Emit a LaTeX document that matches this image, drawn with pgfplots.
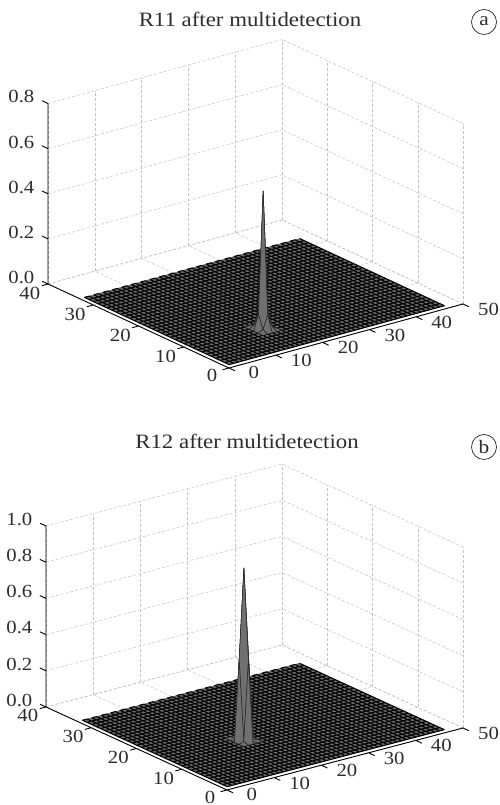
\documentclass[border=0pt]{standalone}
\usepackage{pgfplots}
\usepackage{pgfplotstable}
\usepackage{fontspec}
\setmainfont[FakeStretch=1.12]{Liberation Serif}
\pgfplotsset{compat=1.18}
\definecolor{floorg}{RGB}{105,105,105}
\definecolor{spikeg}{RGB}{112,112,112}
\definecolor{txt}{RGB}{45,45,45}
\pgfplotstableread{
x y z
1 1 0
1 33 0
2 33 0
2 1 0
3 1 0
3 33 0
4 33 0
4 1 0
5 1 0
5 33 0
6 33 0
6 1 0
7 1 0
7 33 0
8 33 0
8 1 0
9 1 0
9 33 0
10 33 0
10 1 0
11 1 0
11 33 0
12 33 0
12 1 0
13 1 0
13 33 0
14 33 0
14 1 0
15 1 0
15 33 0
16 33 0
16 1 0
17 1 0
17 33 0
18 33 0
18 1 0
19 1 0
19 33 0
20 33 0
20 1 0
21 1 0
21 33 0
22 33 0
22 1 0
23 1 0
23 33 0
24 33 0
24 1 0
25 1 0
25 33 0
26 33 0
26 1 0
27 1 0
27 33 0
28 33 0
28 1 0
29 1 0
29 33 0
30 33 0
30 1 0
31 1 0
31 33 0
32 33 0
32 1 0
33 1 0
33 33 0
34 33 0
34 1 0
35 1 0
35 33 0
36 33 0
36 1 0
37 1 0
37 33 0
38 33 0
38 1 0
39 1 0
39 33 0
40 33 0
40 1 0
41 1 0
41 33 0
42 33 0
42 1 0
43 1 0
43 33 0
44 33 0
44 1 0
45 1 0
45 33 0
46 33 0
46 1 0
47 1 0
47 33 0
47 32 0
1 32 0
1 31 0
47 31 0
47 30 0
1 30 0
1 29 0
47 29 0
47 28 0
1 28 0
1 27 0
47 27 0
47 26 0
1 26 0
1 25 0
47 25 0
47 24 0
1 24 0
1 23 0
47 23 0
47 22 0
1 22 0
1 21 0
47 21 0
47 20 0
1 20 0
1 19 0
47 19 0
47 18 0
1 18 0
1 17 0
47 17 0
47 16 0
1 16 0
1 15 0
47 15 0
47 14 0
1 14 0
1 13 0
47 13 0
47 12 0
1 12 0
1 11 0
47 11 0
47 10 0
1 10 0
1 9 0
47 9 0
47 8 0
1 8 0
1 7 0
47 7 0
47 6 0
1 6 0
1 5 0
47 5 0
47 4 0
1 4 0
1 3 0
47 3 0
47 2 0
1 2 0
1 1 0
47 1 0
}\floormesh
\pgfplotstableread{
x y z
14 7 0
15 7 0
16 7 0
17 7 0
18 7 0
14 8 0
15 8 0.012
16 8 0.07
17 8 0.012
18 8 0
14 9 0
15 9 0.07
16 9 0.61
17 9 0.07
18 9 0
14 10 0
15 10 0.012
16 10 0.07
17 10 0.012
18 10 0
14 11 0
15 11 0
16 11 0
17 11 0
18 11 0
}\spikea
\pgfplotstableread{
x y z
15 12 0
16 12 0
17 12 0
18 12 0
19 12 0
15 13 0
16.5 13.5 0
17 13 0.45
17.5 13.5 0
19 13 0
15 14 0
16 14 0.45
17 14 0.95
18 14 0.45
19 14 0
15 15 0
16.5 14.5 0
17 15 0.45
17.5 14.5 0
19 15 0
15 16 0
16 16 0
17 16 0
18 16 0
19 16 0
}\spikeb
% the y and x axis lines with their tick marks, shared by both panels
\pgfplotstableread{
x y z
-1.3 40 0
0 40 0
0 30 0
-1.3 30 0
0 30 0
0 20 0
-1.3 20 0
0 20 0
0 10 0
-1.3 10 0
0 10 0
0 0 0
-1.3 0 0
0 0 0
0 -1.3 0
0 0 0
10 0 0
10 -1.3 0
10 0 0
20 0 0
20 -1.3 0
20 0 0
30 0 0
30 -1.3 0
30 0 0
40 0 0
40 -1.3 0
40 0 0
50 0 0
50 -1.3 0
}\floorticks
\pgfplotsset{
  panel/.style={
    anchor=origin, clip=false,
    xmin=0,xmax=50,ymin=0,ymax=40,zmin=0,
    xtick={0,10,...,50},ytick={0,10,...,40},
    grid=major,
    grid style={densely dashed,line width=0.5pt,black!24},
    axis line style={draw=none},
    tick pos=left,
    tick align=outside, major tick length=6pt,
    tick style={draw=none},
    /pgf/number format/assume math mode=true,
    tick label style={font=\fontsize{18.5}{22}\selectfont,text=txt,inner sep=0pt},
    xticklabel style={xshift=15pt,yshift=5pt},
    yticklabel style={xshift=-6pt,yshift=1pt},
    zticklabel style={xshift=-8pt,yshift=3pt,/pgf/number format/.cd,fixed,fixed zerofill,precision=1,assume math mode=true},
    point meta min=0,point meta max=1,
    colormap={fl}{color(0cm)=(floorg);color(1cm)=(floorg)},
  },
  spike/.style={surf,shader=faceted,z buffer=sort,point meta={0},mesh/rows=5,mesh/cols=5,mesh/ordering=x varies,
    faceted color=black!85,line width=0.5pt,
    colormap={sp}{color(0cm)=(spikeg);color(1cm)=(spikeg)}},
  flr/.style={surf,shader=flat,point meta={0},mesh/rows=2,mesh/cols=2},
  grd/.style={black,line width=1pt,no marks,line join=bevel},
  axl/.style={black,line width=0.9pt,no marks,line join=round},
}
\begin{document}
\begin{tikzpicture}
\path[use as bounding box] (0pt,0pt) rectangle (499pt,805pt);
\begin{axis}[panel,at={(229pt,437pt)},
  x={(4.68pt,1.28pt)},y={(-4.525pt,2.1pt)},z={(0pt,225.6pt)},
  zmax=0.8,ztick={0,0.2,...,0.8}]
\addplot3[flr] coordinates {(1,1,0)(47,1,0)(1,33,0)(47,33,0)};
\addplot3[grd] table[x=x,y=y,z=z] {\floormesh};
\addplot3[spike] table[x=x,y=y,z=z] {\spikea};
\addplot3[axl] coordinates {(0,41.3,0.8)(0,40,0.8)(0,40,0.6)(0,41.3,0.6)(0,40,0.6)(0,40,0.4)(0,41.3,0.4)(0,40,0.4)(0,40,0.2)(0,41.3,0.2)(0,40,0.2)(0,40,0)(0,41.3,0)};
\addplot3[axl] table[x=x,y=y,z=z] {\floorticks};
\end{axis}
\begin{axis}[panel,at={(227pt,15pt)},
  x={(4.72pt,1.24pt)},y={(-4.525pt,2.075pt)},z={(0pt,181pt)},
  zmax=1,ztick={0,0.2,...,1.0}]
\addplot3[flr] coordinates {(1,1,0)(47,1,0)(1,33,0)(47,33,0)};
\addplot3[grd] table[x=x,y=y,z=z] {\floormesh};
\addplot3[spike] table[x=x,y=y,z=z] {\spikeb};
\addplot3[axl] coordinates {(0,41.3,1)(0,40,1)(0,40,0.8)(0,41.3,0.8)(0,40,0.8)(0,40,0.6)(0,41.3,0.6)(0,40,0.6)(0,40,0.4)(0,41.3,0.4)(0,40,0.4)(0,40,0.2)(0,41.3,0.2)(0,40,0.2)(0,40,0)(0,41.3,0)};
\addplot3[axl] table[x=x,y=y,z=z] {\floorticks};
\end{axis}
\node[text=txt,font=\fontsize{20.4}{24}\selectfont] at (250pt,786pt) {R11 after multidetection};
\node[text=txt,font=\fontsize{20.4}{24}\selectfont] at (247pt,364pt) {R12 after multidetection};
\draw[black!85,line width=0.7pt] (484pt,783pt) circle (12.5pt);
\node[text=txt,font=\fontsize{19}{22}\selectfont] at (484pt,784pt) {a};
\draw[black!85,line width=0.7pt] (484pt,358pt) circle (12.5pt);
\node[text=txt,font=\fontsize{19}{22}\selectfont] at (484pt,358pt) {b};
\end{tikzpicture}
\end{document}
